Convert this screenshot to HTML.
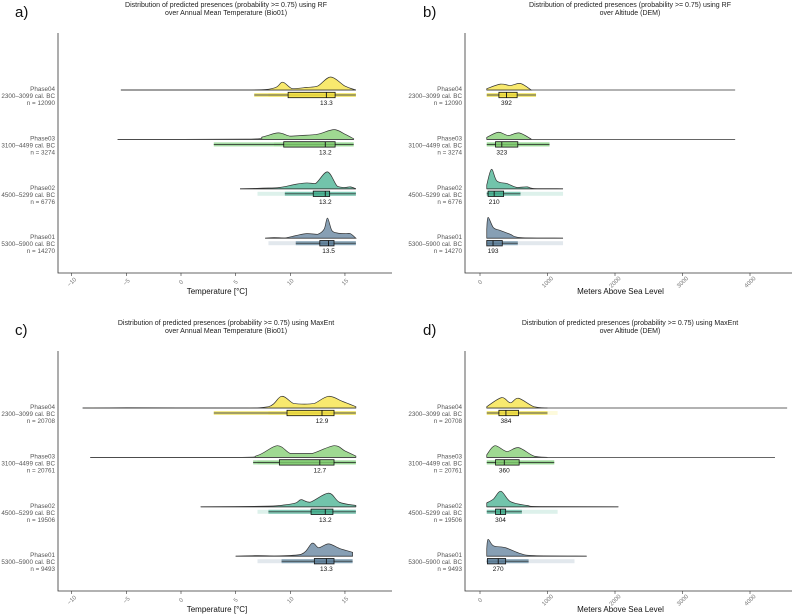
<!DOCTYPE html>
<html><head><meta charset="utf-8"><style>
body{margin:0;background:#fff}
svg{display:block;font-family:"Liberation Sans",sans-serif}
</style></head><body>
<svg id="c" width="800" height="616" viewBox="0 0 800 616"></svg>
<script>
const phases = ["Phase04","Phase03","Phase02","Phase01"];
const periods = ["2300–3099 cal. BC","3100–4499 cal. BC","4500–5299 cal. BC","5300–5900 cal. BC"];
const nRF = ["n = 12090","n = 3274","n = 6776","n = 14270"];
const nME = ["n = 20708","n = 20761","n = 19506","n = 9493"];
const tempTicks = [-10,-5,0,5,10,15];
const altTicks = [0,1000,2000,3000,4000];

// panel a
const aDensX = [[-5.5,6,8.5,9.3,10.2,11.5,12.5,13.7,15,16],[-5.8,6,7.5,8.9,10,11,12.5,14,15,15.8],[5.4,7.5,9,10.5,11.5,12.3,13.4,14.3,15,15.5,16],[7.7,8.5,9.5,10.5,11.5,12.5,13.1,13.4,13.8,14.3,15,15.5,16]];
const aDensH = [[0,0,0.15,0.6,0.1,0.2,0.3,1.0,0.3,0],[0,0.02,0.2,0.5,0.25,0.3,0.4,0.75,0.4,0.05],[0,0.05,0.1,0.35,0.45,0.4,1.3,0.2,0.1,0.15,0],[0,0.05,0.02,0.2,0.35,0.3,0.7,1.55,0.6,0.4,0.35,0.35,0]];
const aLine = [[-5.5,16],[-5.8,15.8],[5.4,16],[7.7,16]];
const aBox = [[6.7,9.8,13.3,14.1,16],[3,9.4,13.2,14.1,15.8],[9.5,12.1,13.2,13.6,16],[10.5,12.7,13.5,14.0,16]];
const aJit = [[8,16],[8.5,15.8],[7,16],[8,16]];
const aMed = ["13.3","13.2","13.2","13.5"];
// panel b
const bDensX = [[100,300,450,600,760],[100,270,420,580,760],[100,170,250,400,550,700,800,1230],[100,120,200,300,450,600,1230]];
const bDensH = [[0.1,0.45,0.35,0.5,0],[0.15,0.55,0.3,0.5,0.02],[0.3,1.5,0.6,0.4,0.1,0.15,0.02,0],[0.7,1.6,0.8,0.6,0.3,0.05,0]];
const bLine = [[100,3780],[100,3780],[100,1230],[100,1230]];
const bBox = [[100,280,392,550,830],[100,230,323,560,1030],[100,120,210,350,600],[100,100,193,330,560]];
const bJit = [[100,830],[100,1030],[100,1230],[100,1230]];
const bMed = ["392","323","210","193"];
// panel c
const cDensX = [[-9,-5,5,8,9.2,10.3,11.3,12.2,13.5,14.8,16],[-8.3,5,7,8.8,10,11,12,14,15,16],[1.8,8,9.5,10.5,11,11.8,13.5,14.5,16],[5,7,8.5,11,12,12.6,13.5,14.5,15.7]];
const cDensH = [[0,0.02,0,0.1,0.9,0.35,0.3,0.35,0.9,0.5,0.1],[0,0,0.15,0.9,0.3,0.3,0.3,0.9,0.5,0.1],[0,0.05,0.15,0.3,0.55,0.35,1.05,0.35,0.1],[0,0.05,0.02,0.15,1.0,0.65,0.95,0.6,0.3]];
const cLine = [[-9,16],[-8.3,16],[1.8,16],[5,15.7]];
const cBox = [[3,9.7,12.9,14.0,16],[6.6,9,12.7,14,16],[8,11.9,13.2,13.9,16],[9.2,12.2,13.3,14.0,15.7]];
const cJit = [[8,16],[7,16],[7,16],[7,15.7]];
const cMed = ["12.9","12.7","13.2","13.3"];
// panel d
const dDensX = [[100,320,450,570,800,1000],[100,220,400,570,800,1000],[100,200,310,450,700,900,2050],[100,120,200,380,600,800,1580]];
const dDensH = [[0.1,0.8,0.4,0.75,0.1,0],[0.2,0.9,0.45,0.75,0.1,0],[0.3,0.6,1.2,0.4,0.1,0.02,0],[0.6,1.3,0.8,0.65,0.2,0.05,0]];
const dLine = [[100,4550],[100,4370],[100,2050],[100,1580]];
const dBox = [[100,280,384,570,1000],[100,230,360,580,1100],[100,230,304,380,620],[100,110,270,380,720]];
const dJit = [[100,1150],[100,1100],[100,1150],[100,1400]];
const dMed = ["384","360","304","270"];

const fills = ["#f5e23e","#7fcc6e","#43b08f","#5f7f9b"];
const dark = ["#e8d51a","#4cb748","#1f9a7a","#2c5f7f"];
const NS = "http://www.w3.org/2000/svg";
const svg = document.getElementById('c');
function mk(tag, attrs, parent, text){
  const e = document.createElementNS(NS, tag);
  for (const k in attrs) e.setAttribute(k, attrs[k]);
  if (text !== undefined) e.textContent = text;
  (parent || svg).appendChild(e);
  return e;
}
function smooth(pts){
  let d = "M" + pts[0][0] + "," + pts[0][1];
  for (let i = 0; i < pts.length - 1; i++){
    const p0 = pts[Math.max(0,i-1)], p1 = pts[i], p2 = pts[i+1], p3 = pts[Math.min(pts.length-1,i+2)];
    const c1x = p1[0] + (p2[0]-p0[0])/6, c1y = Math.min(p1[1] + (p2[1]-p0[1])/6, Math.max(p1[1],p2[1]));
    const c2x = p2[0] - (p3[0]-p1[0])/6, c2y = Math.min(p2[1] - (p3[1]-p1[1])/6, Math.max(p1[1],p2[1]));
    d += " C" + c1x + "," + c1y + " " + c2x + "," + c2y + " " + p2[0] + "," + p2[1];
  }
  return d;
}

function panel(o){
  const g = mk('g', {});
  
  
  const sx = v => o.x0 + v * o.k;
  const t1 = mk('text', {x:o.tx, y:o.top+7, 'font-size':7, 'text-anchor':'middle', fill:'#222'}, g, o.title1);
  
  
  mk('text', {x:o.tx, y:o.top+15, 'font-size':7, 'text-anchor':'middle', fill:'#222'}, g, o.title2);
  const pl = mk('text', {x:o.lx, y:o.top+17, 'font-size':15, fill:'#111'}, g, o.letter);
  
  
  const ax = mk('path', {d:`M${o.axL},${o.top+33}V${o.top+273}H${o.axR}`, stroke:'#333', 'stroke-width':0.8, fill:'none'}, g);
  
  
  o.ticks.forEach(t => {
    const x = sx(t);
    mk('line', {x1:x, x2:x, y1:o.top+273, y2:o.top+276, stroke:'#333', 'stroke-width':0.6}, g);
    const tl = mk('text', {x:x, y:o.top+284, 'font-size':6, fill:'#777', 'text-anchor':'middle', transform:`rotate(-45 ${x} ${o.top+282})`}, g, t < 0 ? "−" + Math.abs(t) : String(t));
    
    
  });
  const xt = mk('text', {x:(o.axL+o.axR)/2 - 8, y:o.top+294, 'font-size':8, 'text-anchor':'middle', fill:'#111'}, g, o.xTitle);
  
  
  for (let r = 0; r < 4; r++){
    const by = o.top + 90 + r * 49.4;
    const row = mk('g', {}, g);
    
    
    [phases[r], periods[r], o.ns[r]].forEach((s, i) => {
      mk('text', {x:o.axL-3, y:by+1+i*7, 'font-size':6.3, 'text-anchor':'end', fill:'#555'}, row, s);
    });
    const jt = o.jit[r];
    const jb = mk('rect', {x:sx(jt[0]), y:by+3, width:sx(jt[1])-sx(jt[0]), height:4, fill:fills[r], opacity:0.18}, row);
    
    
    const bx = o.box[r];
    mk('rect', {x:sx(bx[0]), y:by+3, width:sx(bx[4])-sx(bx[0]), height:4, fill:dark[r], opacity:0.5}, row);
    const ln = o.line[r];
    mk('line', {x1:sx(ln[0]), x2:sx(ln[1]), y1:by, y2:by, stroke:'#333', 'stroke-width':0.8}, row);
    const pts = o.dx[r].map((v, i) => [sx(v), by - o.dh[r][i] * 13]);
    let d = smooth(pts) + ` L${pts[pts.length-1][0]},${by} L${pts[0][0]},${by} Z`;
    const dp = mk('path', {d:d, fill:fills[r], 'fill-opacity':0.75, stroke:'#333', 'stroke-width':0.7}, row);
    
    
    const wy = by + 5;
    mk('line', {x1:sx(bx[0]), x2:sx(bx[4]), y1:wy, y2:wy, stroke:'#222', 'stroke-width':0.7}, row);
    const bb = mk('rect', {x:sx(bx[1]), y:by+2.3, width:Math.max(sx(bx[3])-sx(bx[1]),1), height:5.4, fill:fills[r], 'fill-opacity':0.8, stroke:'#111', 'stroke-width':0.8}, row);
    
    
    mk('line', {x1:sx(bx[2]), x2:sx(bx[2]), y1:by+2.3, y2:by+7.7, stroke:'#111', 'stroke-width':0.9}, row);
    const ml = mk('text', {x:sx(bx[2]), y:by+15, 'font-size':6.5, 'text-anchor':'middle', fill:'#111'}, row, o.med[r]);
    
    
  }
}
const tk = 10.93, ak = 0.0675;
panel({name:'panel-a', letter:'a)', top:0, lx:15, tx:226, title1:'Distribution of predicted presences (probability >= 0.75) using RF', title2:'over Annual Mean Temperature (Bio01)', axL:58, axR:392, x0:181, k:tk, ticks:tempTicks, xTitle:'Temperature [°C]', ns:nRF, dx:aDensX, dh:aDensH, line:aLine, box:aBox, jit:aJit, med:aMed});
panel({name:'panel-b', letter:'b)', top:0, lx:423, tx:630, title1:'Distribution of predicted presences (probability >= 0.75) using RF', title2:'over Altitude (DEM)', axL:465, axR:792, x0:480, k:ak, ticks:altTicks, xTitle:'Meters Above Sea Level', ns:nRF, dx:bDensX, dh:bDensH, line:bLine, box:bBox, jit:bJit, med:bMed});
panel({name:'panel-c', letter:'c)', top:318, lx:15, tx:226, title1:'Distribution of predicted presences (probability >= 0.75) using MaxEnt', title2:'over Annual Mean Temperature (Bio01)', axL:58, axR:392, x0:181, k:tk, ticks:tempTicks, xTitle:'Temperature [°C]', ns:nME, dx:cDensX, dh:cDensH, line:cLine, box:cBox, jit:cJit, med:cMed});
panel({name:'panel-d', letter:'d)', top:318, lx:423, tx:630, title1:'Distribution of predicted presences (probability >= 0.75) using MaxEnt', title2:'over Altitude (DEM)', axL:465, axR:792, x0:480, k:ak, ticks:altTicks, xTitle:'Meters Above Sea Level', ns:nME, dx:dDensX, dh:dDensH, line:dLine, box:dBox, jit:dJit, med:dMed});
</script>
</body></html>
